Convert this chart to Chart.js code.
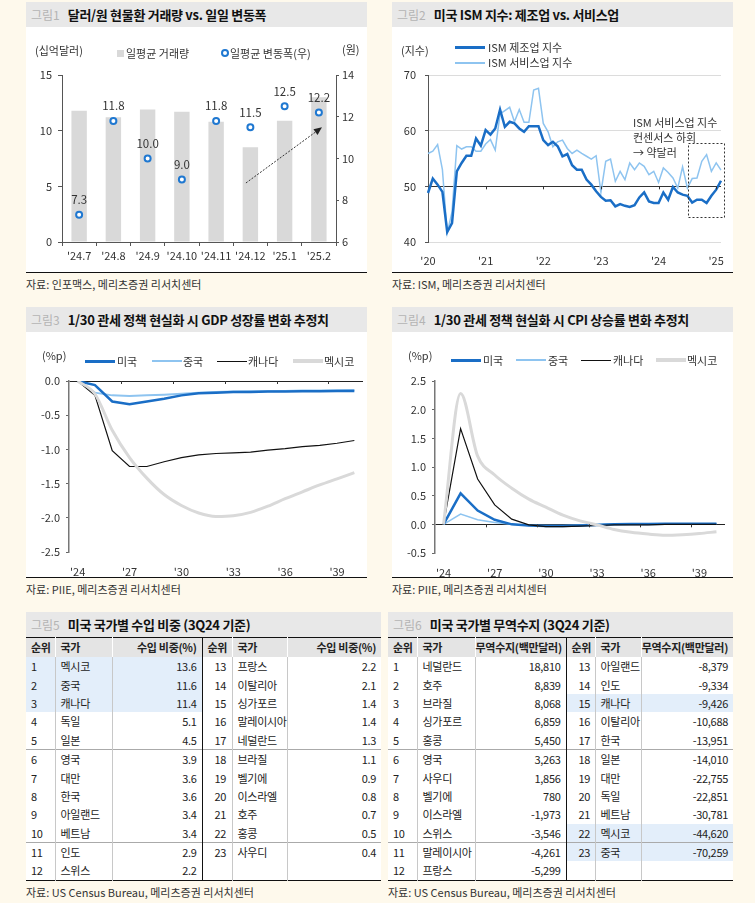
<!DOCTYPE html>
<html>
<head>
<meta charset="utf-8">
<script src="https://cdn.jsdelivr.net/npm/chart.js@4.4.1/dist/chart.umd.min.js"></script>
<style>
  body { margin: 0; width: 755px; height: 903px; background: #fef9ec; position: relative; overflow: hidden;
         font-family: "Noto Sans CJK KR", "Noto Sans", sans-serif; color: #222; }
  .panel { position: absolute; width: 341px; }
  .tbar { height: 25px; line-height: 25px; background: #e8e8e8; padding-left: 5px; white-space: nowrap;
          font-size: 13px; font-weight: bold; color: #111; letter-spacing: -0.3px; }
  .tbar .fig { color: #b4b4b4; font-weight: normal; font-size: 12px; margin-right: 8px; letter-spacing: 0; }
  .cbody { position: relative; height: 245px; background: #fff; border-bottom: 1.5px solid #111; }
  .cbox { position: absolute; left: 0; top: 0; width: 100%; height: 245px; }
  .src { font-size: 11px; line-height: 14px; margin-top: 4px; color: #333; white-space: nowrap; }
  .ov { position: absolute; font-size: 11px; line-height: 14px; margin-top: -7px; white-space: nowrap; color: #333; }
  .lg { position: absolute; }
  .tb { border-collapse: collapse; table-layout: fixed; width: 100%; font-size: 11px; background: #fff;
        border-top: 1.5px solid #111; border-bottom: 1.5px solid #111; letter-spacing: -0.3px; }
  .tb th { background: #e4e4e4; height: 19px; padding: 0 0 0 5px; text-align: left; font-weight: bold;
           border-right: 1px solid #fff; white-space: nowrap; line-height: 19px; }
  .tb td { height: 18.4px; line-height: 18px; padding: 0 0 0 5px; border-right: 1px solid #c8c8c8; white-space: nowrap; }
  .tb .v { text-align: right; padding: 0 5px 0 0; }
  .tb .mid { border-right: 1.5px solid #111; }
  .tb .last { border-right: none; }
  .tb .r2 { padding-left: 12px; }
  .tb tr.sep td { border-top: 1px solid #aaa; }
  .tb td.hl { background: #e3eefa; }
</style>
</head>
<body>

<div class="panel" style="left:26px; top:2px;">
  <div class="tbar"><span class="fig">그림1</span>달러/원 현물환 거래량 vs. 일일 변동폭</div>
  <div class="cbody">
    <div class="cbox"><canvas id="fxChart"></canvas></div>
    <span class="ov" style="left:9px; top:23px;">(십억달러)</span>
    <span class="ov" style="left:316px; top:22px;">(원)</span>
    <span class="lg" style="left:91px; top:23px; width:7px; height:7px; background:#d9d9d9;"></span>
    <span class="ov" style="left:100px; top:26px;">일평균 거래량</span>
    <span class="lg" style="left:195px; top:22px; width:4px; height:4px; border:2px solid #1f78d1; border-radius:50%; background:#fff;"></span>
    <span class="ov" style="left:204px; top:26px;">일평균 변동폭(우)</span>
  </div>
  <div class="src">자료: 인포맥스, 메리츠증권 리서치센터</div>
</div>

<div class="panel" style="left:392px; top:2px;">
  <div class="tbar"><span class="fig">그림2</span>미국 ISM 지수: 제조업 vs. 서비스업</div>
  <div class="cbody">
    <div class="cbox"><canvas id="ismChart"></canvas></div>
    <span class="ov" style="left:9px; top:23px;">(지수)</span>
    <span class="lg" style="left:63px; top:19px; width:30px; height:3px; background:#1a6ec6;"></span>
    <span class="ov" style="left:96px; top:20px;">ISM 제조업 지수</span>
    <span class="lg" style="left:63px; top:35px; width:30px; height:1.5px; background:#8ec4f0;"></span>
    <span class="ov" style="left:96px; top:35px;">ISM 서비스업 지수</span>
    <span class="ov" style="left:241px; top:95px;">ISM 서비스업 지수</span>
    <span class="ov" style="left:241px; top:110px;">컨센서스 하회</span>
    <span class="ov" style="left:241px; top:125px;">→ 약달러</span>
  </div>
  <div class="src">자료: ISM, 메리츠증권 리서치센터</div>
</div>

<div class="panel" style="left:26px; top:307px;">
  <div class="tbar"><span class="fig">그림3</span>1/30 관세 정책 현실화 시 GDP 성장률 변화 추정치</div>
  <div class="cbody">
    <div class="cbox"><canvas id="gdpChart"></canvas></div>
    <span class="ov" style="left:16px; top:23px;">(%p)</span>
    <span class="lg" style="left:59px; top:28px; width:30px; height:3px; background:#1a6ec6;"></span>
    <span class="ov" style="left:91px; top:29px;">미국</span>
    <span class="lg" style="left:126px; top:28px; width:30px; height:2px; background:#8ec4f0;"></span>
    <span class="ov" style="left:157px; top:29px;">중국</span>
    <span class="lg" style="left:191px; top:29px; width:30px; height:1.2px; background:#111;"></span>
    <span class="ov" style="left:222px; top:29px;">캐나다</span>
    <span class="lg" style="left:267px; top:27px; width:30px; height:4px; background:#d9d9d9;"></span>
    <span class="ov" style="left:298px; top:29px;">멕시코</span>
  </div>
  <div class="src">자료: PIIE, 메리츠증권 리서치센터</div>
</div>

<div class="panel" style="left:392px; top:307px;">
  <div class="tbar"><span class="fig">그림4</span>1/30 관세 정책 현실화 시 CPI 상승률 변화 추정치</div>
  <div class="cbody">
    <div class="cbox"><canvas id="cpiChart"></canvas></div>
    <span class="ov" style="left:16px; top:23px;">(%p)</span>
    <span class="lg" style="left:59px; top:27px; width:30px; height:3px; background:#1a6ec6;"></span>
    <span class="ov" style="left:91px; top:28px;">미국</span>
    <span class="lg" style="left:124px; top:27px; width:30px; height:1.5px; background:#8ec4f0;"></span>
    <span class="ov" style="left:156px; top:28px;">중국</span>
    <span class="lg" style="left:189px; top:28px; width:30px; height:1.2px; background:#111;"></span>
    <span class="ov" style="left:221px; top:28px;">캐나다</span>
    <span class="lg" style="left:264px; top:26px; width:30px; height:4px; background:#d9d9d9;"></span>
    <span class="ov" style="left:295px; top:28px;">멕시코</span>
  </div>
  <div class="src">자료: PIIE, 메리츠증권 리서치센터</div>
</div>

<div class="panel" style="left:26px; top:612px; width:355px;">
  <div class="tbar"><span class="fig">그림5</span>미국 국가별 수입 비중 (3Q24 기준)</div>
  <div id="tbl5"></div>
  <div class="src">자료: US Census Bureau, 메리츠증권 리서치센터</div>
</div>

<div class="panel" style="left:388px; top:612px; width:345px;">
  <div class="tbar"><span class="fig">그림6</span>미국 국가별 무역수지 (3Q24 기준)</div>
  <div id="tbl6"></div>
  <div class="src">자료: US Census Bureau, 메리츠증권 리서치센터</div>
</div>

<script>
// 그림1 data
var fxMonths = ["'24.7", "'24.8", "'24.9", "'24.10", "'24.11", "'24.12", "'25.1", "'25.2"];
var fxVolume = [11.8, 11.2, 11.9, 11.7, 10.8, 8.5, 10.9, 13.0];
var fxRange = [7.3, 11.8, 10.0, 9.0, 11.8, 11.5, 12.5, 12.2];
var trendArrow = [[4.87, 5.3], [7.09, 10.3]];

// 그림2 data (monthly, Dec 2019 ~ Jan 2025)
var ismYears = ["'20", "'21", "'22", "'23", "'24", "'25"];
var ismMfg = [48.8, 51.4, 50.3, 49.0, 41.8, 43.4, 52.7, 54.2, 55.5, 55.5,
  58.6, 57.3, 60.1, 59.3, 60.4, 63.8, 60.7, 61.6, 61.3, 60.4,
  59.8, 60.8, 60.8, 60.8, 58.3, 57.4, 58.0, 57.2, 55.4, 55.8,
  53.8, 53.0, 53.0, 51.2, 50.3, 49.1, 48.1, 47.4, 47.5, 46.4,
  46.8, 46.5, 46.3, 46.6, 48.0, 48.9, 47.3, 47.0, 47.0, 48.9,
  47.6, 49.9, 48.9, 48.5, 48.3, 47.1, 47.6, 47.6, 47.0, 48.3,
  49.4, 51.0];
var ismSvc = [55.9, 56.3, 57.5, 53.0, 41.6, 45.4, 57.3, 56.7, 57.1, 57.1,
  56.3, 56.3, 57.6, 58.4, 56.5, 63.0, 63.6, 64.2, 61.6, 63.8,
  61.5, 61.5, 67.3, 67.6, 61.3, 59.8, 57.1, 58.0, 58.3, 56.8,
  55.9, 56.5, 55.9, 55.4, 54.9, 55.5, 48.9, 54.5, 54.9, 50.9,
  52.7, 51.2, 54.2, 53.0, 54.2, 53.6, 52.1, 52.7, 50.7, 53.3,
  52.5, 51.5, 49.7, 53.5, 49.7, 51.4, 51.5, 54.5, 55.7, 52.7,
  54.2, 52.9];
var ismBox = [[54.2, 57.8], [61.6, 44.5]];

// 그림3, 그림4 data
var simYears = ["2024", "2025", "2026", "2027", "2028", "2029", "2030", "2031", "2032",
  "2033", "2034", "2035", "2036", "2037", "2038", "2039", "2040"];
var gdpUS = [0, -0.06, -0.30, -0.34, -0.30, -0.26, -0.21, -0.18, -0.17, -0.16, -0.16, -0.155, -0.155, -0.15, -0.15, -0.145, -0.145];
var gdpCN = [0, -0.17, -0.21, -0.22, -0.21, -0.20, -0.185, -0.17, -0.16, -0.155, -0.15, -0.15, -0.145, -0.14, -0.14, -0.135, -0.13];
var gdpCA = [0, -0.21, -1.02, -1.25, -1.25, -1.18, -1.12, -1.08, -1.06, -1.05, -1.04, -1.01, -0.99, -0.96, -0.94, -0.91, -0.87];
var gdpMX = [0, -0.19, -0.72, -1.12, -1.42, -1.66, -1.82, -1.93, -1.98, -1.97, -1.92, -1.83, -1.72, -1.62, -1.52, -1.43, -1.34];
var cpiUS = [0, 0.54, 0.24, 0.08, 0.0, -0.02, -0.03, -0.03, -0.02, -0.01, 0.0, 0.005, 0.005, 0.01, 0.01, 0.01, 0.01];
var cpiCN = [0, 0.18, 0.08, 0.03, 0.0, -0.02, -0.02, -0.02, -0.01, 0.0, 0.01, 0.01, 0.01, 0.01, 0.01, 0.01, 0.01];
var cpiCA = [0, 1.67, 0.79, 0.34, 0.09, -0.01, -0.04, -0.04, -0.03, -0.02, -0.01, -0.01, -0.01, 0.0, 0.0, 0.0, 0.0];
var cpiMX = [0, 2.28, 1.19, 0.86, 0.63, 0.44, 0.30, 0.16, 0.06, -0.01, -0.09, -0.14, -0.17, -0.19, -0.18, -0.16, -0.13];

// 그림5 data
var impCountries = ["멕시코", "중국", "캐나다", "독일", "일본", "영국", "대만", "한국", "아일랜드", "베트남", "인도", "스위스",
  "프랑스", "이탈리아", "싱가포르", "말레이시아", "네덜란드", "브라질", "벨기에", "이스라엘", "호주", "홍콩", "사우디"];
var impShare = ["13.6", "11.6", "11.4", "5.1", "4.5", "3.9", "3.6", "3.6", "3.4", "3.4", "2.9", "2.2",
  "2.2", "2.1", "1.4", "1.4", "1.3", "1.1", "0.9", "0.8", "0.7", "0.5", "0.4"];
var impHighlight = [1, 2, 3];

// 그림6 data
var balCountries = ["네덜란드", "호주", "브라질", "싱가포르", "홍콩", "영국", "사우디", "벨기에", "이스라엘", "스위스", "말레이시아", "프랑스",
  "아일랜드", "인도", "캐나다", "이탈리아", "한국", "일본", "대만", "독일", "베트남", "멕시코", "중국"];
var balValues = ["18,810", "8,839", "8,068", "6,859", "5,450", "3,263", "1,856", "780", "-1,973", "-3,546", "-4,261", "-5,299",
  "-8,379", "-9,334", "-9,426", "-10,688", "-13,951", "-14,010", "-22,755", "-22,851", "-30,781", "-44,620", "-70,259"];
var balHighlight = [15, 22, 23];

// tables
function buildTable(id, widths, valHead, names, vals, hl) {
  var h = '<table class="tb"><colgroup>';
  widths.forEach(function (w) { h += '<col style="width:' + w + 'px">'; });
  h += '</colgroup><tr><th>순위</th><th>국가</th><th class="v mid">' + valHead + '</th>' +
       '<th>순위</th><th>국가</th><th class="v last">' + valHead + '</th></tr>';
  for (var i = 0; i < 12; i++) {
    var a = i + 1, b = i + 13;
    var ca = hl.indexOf(a) >= 0 ? ' hl' : '';
    var cb = hl.indexOf(b) >= 0 ? ' hl' : '';
    var hasB = b <= names.length;
    h += '<tr' + (i === 5 || i === 10 ? ' class="sep"' : '') + '>';
    h += '<td class="' + ca + '">' + a + '</td><td class="' + ca + '">' + names[a - 1] + '</td>' +
         '<td class="v mid' + ca + '">' + vals[a - 1] + '</td>';
    h += '<td class="r2' + cb + '">' + (hasB ? b : '') + '</td><td class="' + cb + '">' + (hasB ? names[b - 1] : '') + '</td>' +
         '<td class="v last' + cb + '">' + (hasB ? vals[b - 1] : '') + '</td>';
    h += '</tr>';
  }
  h += '</table>';
  document.getElementById(id).innerHTML = h;
}
buildTable('tbl5', [29, 57, 90, 30, 55, 94], '수입 비중(%)', impCountries, impShare, impHighlight);
buildTable('tbl6', [29, 58, 91, 29, 46, 92], '무역수지(백만달러)', balCountries, balValues, balHighlight);

// chart defaults
Chart.defaults.font.family = '"Noto Sans CJK KR", "Noto Sans", sans-serif';
Chart.defaults.font.size = 11;
Chart.defaults.color = '#333';
Chart.defaults.animation = false;
Chart.defaults.plugins.legend.display = false;
Chart.defaults.plugins.tooltip.enabled = false;

function fixW(w) { return function (s) { s.width = w; }; }
function fixH(h) { return function (s) { s.height = h; }; }

// small tick marks hanging from a horizontal line (x axis crossing)
var lineTicks = {
  id: 'lineTicks',
  afterDatasetsDraw: function (chart, args, opts) {
    var x = chart.scales.x, y = chart.scales.y, ctx = chart.ctx;
    var yy = y.getPixelForValue(opts.at);
    var half = opts.offset ? (x.getPixelForValue(1) - x.getPixelForValue(0)) / 2 : 0;
    ctx.save();
    ctx.strokeStyle = opts.color || '#333';
    ctx.lineWidth = 1;
    for (var i = opts.every; i < chart.data.labels.length; i += opts.every) {
      var px = Math.round(x.getPixelForValue(i) - half) + 0.5;
      ctx.beginPath(); ctx.moveTo(px, yy); ctx.lineTo(px, yy + 3); ctx.stroke();
    }
    ctx.restore();
  }
};

// 그림1
var fxLabels = {
  id: 'fxLabels',
  afterDatasetsDraw: function (chart) {
    var meta = chart.getDatasetMeta(1), ctx = chart.ctx;
    ctx.save();
    ctx.font = '11.5px "Noto Sans CJK KR", sans-serif';
    ctx.fillStyle = '#333';
    ctx.textAlign = 'center';
    ctx.textBaseline = 'middle';
    meta.data.forEach(function (pt, i) { ctx.fillText(fxRange[i].toFixed(1), pt.x, pt.y - 15); });
    ctx.restore();
  }
};
var fxArrow = {
  id: 'fxArrow',
  afterDatasetsDraw: function (chart) {
    var x = chart.scales.x, y = chart.scales.y, ctx = chart.ctx;
    var x1 = x.getPixelForValue(trendArrow[0][0]), y1 = y.getPixelForValue(trendArrow[0][1]);
    var x2 = x.getPixelForValue(trendArrow[1][0]), y2 = y.getPixelForValue(trendArrow[1][1]);
    var ang = Math.atan2(y2 - y1, x2 - x1);
    ctx.save();
    ctx.strokeStyle = '#333'; ctx.fillStyle = '#222'; ctx.lineWidth = 1;
    ctx.setLineDash([2, 1.5]);
    ctx.beginPath(); ctx.moveTo(x1, y1);
    ctx.lineTo(x2 - 6 * Math.cos(ang), y2 - 6 * Math.sin(ang)); ctx.stroke();
    ctx.setLineDash([]);
    ctx.beginPath();
    ctx.moveTo(x2, y2);
    ctx.lineTo(x2 - 8 * Math.cos(ang) + 3.5 * Math.sin(ang), y2 - 8 * Math.sin(ang) - 3.5 * Math.cos(ang));
    ctx.lineTo(x2 - 8 * Math.cos(ang) - 3.5 * Math.sin(ang), y2 - 8 * Math.sin(ang) + 3.5 * Math.cos(ang));
    ctx.closePath(); ctx.fill();
    ctx.restore();
  }
};

new Chart(document.getElementById('fxChart'), {
  type: 'bar',
  data: {
    labels: fxMonths,
    datasets: [{
      label: '일평균 거래량',
      data: fxVolume,
      backgroundColor: '#d9d9d9',
      barPercentage: 0.45,
      categoryPercentage: 1,
      yAxisID: 'y',
      order: 2
    }, {
      type: 'line',
      label: '일평균 변동폭(우)',
      data: fxRange,
      showLine: false,
      pointRadius: 3,
      pointBorderWidth: 2,
      pointBackgroundColor: '#fff',
      pointBorderColor: '#1f78d1',
      yAxisID: 'y1',
      order: 1
    }]
  },
  options: {
    responsive: true,
    maintainAspectRatio: false,
    layout: { padding: { top: 48, left: 0, right: 0, bottom: 0 } },
    scales: {
      x: {
        grid: { drawOnChartArea: false, tickLength: 4, color: '#555', offset: true },
        border: { color: '#555' },
        ticks: { padding: 3, color: '#333', autoSkip: false, maxRotation: 0, minRotation: 0 },
        afterFit: fixH(30)
      },
      y: {
        position: 'left', min: 0, max: 15,
        ticks: { stepSize: 5, padding: 6 },
        grid: { drawOnChartArea: false, tickLength: 4, color: '#555' },
        border: { color: '#555' },
        afterFit: fixW(36)
      },
      y1: {
        position: 'right', min: 6, max: 14,
        ticks: { stepSize: 2, padding: 3 },
        grid: { drawOnChartArea: false, tickLength: 3, color: '#555' },
        border: { color: '#555' },
        afterFit: fixW(31)
      }
    }
  },
  plugins: [fxLabels, fxArrow]
});

// 그림2
var ismMonths = [];
for (var k = 0; k < ismMfg.length; k++) {
  var mm = (11 + k) % 12 + 1, yy = 2019 + Math.floor((11 + k) / 12);
  ismMonths.push(yy + '-' + (mm < 10 ? '0' : '') + mm);
}
var ismBoxPlugin = {
  id: 'ismBox',
  afterDatasetsDraw: function (chart) {
    var x = chart.scales.x, y = chart.scales.y, ctx = chart.ctx;
    var x1 = x.getPixelForValue(ismBox[0][0]), y1 = y.getPixelForValue(ismBox[0][1]);
    var x2 = x.getPixelForValue(ismBox[1][0]), y2 = y.getPixelForValue(ismBox[1][1]);
    ctx.save();
    ctx.strokeStyle = '#333'; ctx.lineWidth = 1; ctx.setLineDash([2, 2]);
    ctx.strokeRect(Math.round(x1) + 0.5, Math.round(y1) + 0.5, Math.round(x2 - x1), Math.round(y2 - y1));
    ctx.restore();
  }
};

new Chart(document.getElementById('ismChart'), {
  type: 'line',
  data: {
    labels: ismMonths,
    datasets: [{
      label: 'ISM 제조업 지수',
      data: ismMfg,
      borderColor: '#1a6ec6',
      borderWidth: 2.5,
      pointRadius: 0,
      tension: 0
    }, {
      label: 'ISM 서비스업 지수',
      data: ismSvc,
      borderColor: '#8ec4f0',
      borderWidth: 1.5,
      pointRadius: 0,
      tension: 0
    }]
  },
  options: {
    responsive: true,
    maintainAspectRatio: false,
    layout: { padding: { top: 48, left: 0, right: 12, bottom: 0 } },
    scales: {
      x: {
        offset: false,
        grid: { display: false },
        border: { display: false },
        ticks: {
          autoSkip: false, maxRotation: 0, padding: 4,
          callback: function (v, i) { return i % 12 === 0 ? ismYears[i / 12] : ''; }
        },
        afterFit: fixH(30)
      },
      y: {
        min: 40, max: 70,
        ticks: { stepSize: 10, padding: 9 },
        grid: {
          color: function (c) { return c.tick.value === 50 ? '#333' : '#dcdcdc'; },
          tickColor: '#555', tickLength: 3
        },
        border: { color: '#555' },
        afterFit: fixW(36)
      }
    },
    plugins: { lineTicks: { at: 50, every: 12, offset: false, color: '#333' } }
  },
  plugins: [lineTicks, ismBoxPlugin]
});

// 그림3, 그림4
function simChart(id, series, widths, yMin, yMax, padTop, padRight, yW, xH) {
  new Chart(document.getElementById(id), {
    type: 'line',
    data: {
      labels: simYears,
      datasets: [
        { label: '미국', data: series[0], borderColor: '#1a6ec6', borderWidth: widths[0], pointRadius: 0, order: 3 },
        { label: '중국', data: series[1], borderColor: '#8ec4f0', borderWidth: widths[1], pointRadius: 0, order: 4 },
        { label: '캐나다', data: series[2], borderColor: '#111', borderWidth: widths[2], pointRadius: 0, order: 2 },
        { label: '멕시코', data: series[3], borderColor: '#d9d9d9', borderWidth: widths[3], pointRadius: 0, order: 1,
          cubicInterpolationMode: 'monotone' }
      ]
    },
    options: {
      responsive: true,
      maintainAspectRatio: false,
      layout: { padding: { top: padTop, left: 0, right: padRight, bottom: 0 } },
      scales: {
        x: {
          offset: true,
          grid: { display: false },
          border: { display: false },
          ticks: {
            autoSkip: false, maxRotation: 0, padding: 5,
            callback: function (v, i) { return i % 3 === 0 ? "'" + simYears[i].slice(2) : ''; }
          },
          afterFit: fixH(xH)
        },
        y: {
          min: yMin, max: yMax,
          ticks: { stepSize: 0.5, padding: 6, callback: function (v) { return v.toFixed(1); } },
          grid: {
            color: function (c) { return c.tick.value === 0 ? '#222' : 'rgba(0,0,0,0)'; },
            tickColor: '#666', tickLength: 3
          },
          border: { color: '#777', width: 1.5 },
          afterFit: fixW(yW)
        }
      },
      plugins: { lineTicks: { at: 0, every: 3, offset: true, color: '#333' } }
    },
    plugins: [lineTicks]
  });
}
simChart('gdpChart', [gdpUS, gdpCN, gdpCA, gdpMX], [2.5, 2, 1.2, 3], -2.5, 0, 49, 4, 43, 25);
simChart('cpiChart', [cpiUS, cpiCN, cpiCA, cpiMX], [2.5, 1.5, 1.2, 3], -0.5, 2.5, 49, 8, 43, 24);
</script>
</body>
</html>
